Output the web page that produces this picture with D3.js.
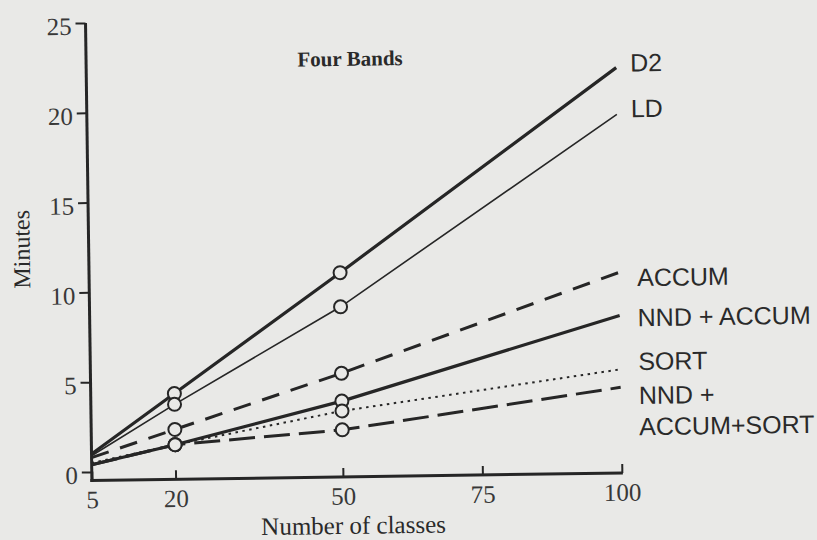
<!DOCTYPE html>
<html lang="en">
<head>
    <meta charset="UTF-8">
    <title>Four Bands</title>
    <script src="https://d3js.org/d3.v7.min.js"></script>
</head>

<style>
    body{
        margin: 0;
        background: #e9e9e7;
    }
    svg text {
        fill: #2a2a2a;
    }
</style>
<body>

    <svg id = "chart"></svg>

    <script>
    //Data
        const classes = [5, 20, 50, 100];
        const markerClasses = [20, 50];

        const d2 = [1.0, 4.3, 10.9, 22.1];
        const ld = [0.9, 3.7, 9.0, 19.5];
        const accum = [0.8, 2.3, 5.3, 10.7];
        const nndAccum = [0.4, 1.45, 3.75, 8.3];
        const sortMin = [0.5, 1.45, 3.2, 5.3];
        const nndAccumSort = [0.4, 1.45, 2.15, 4.3];

        const seriesNames = ['D2', 'LD', 'ACCUM', 'NND + ACCUM', 'SORT', 'NND +\nACCUM+SORT'];
        const seriesValues = [d2, ld, accum, nndAccum, sortMin, nndAccumSort];

        const yTicks = [0, 5, 10, 15, 20, 25];
        const xTicks = [5, 20, 50, 75, 100];

        const title = 'Four Bands';
        const xTitle = 'Number of classes';
        const yTitle = 'Minutes';

    //Line styles, same order as the series
        const styles = [
            {width: 3.2, dash: null},
            {width: 1.6, dash: null},
            {width: 3, dash: '18,12'},
            {width: 3.2, dash: null},
            {width: 2, dash: '2.5,4.5'},
            {width: 3, dash: '26,9'}
        ];
        const labelNudge = [-5, -6, 5, 2, -8, 8];

        const width = 817;
        const height = 540;
        const ink = '#262626';
        const serif = '"Liberation Serif", "Times New Roman", serif';

        const svg = d3.select('#chart')
            .attr('width', width)
            .attr('height', height);

        // the scan is a little tilted
        const g = svg.append('g')
            .attr('transform', 'rotate(-0.8, 408, 270)');

        const x = d3.scaleLinear()
            .domain([5, 100])
            .range([89, 619]);

        const y = d3.scaleLinear()
            .domain([0, 25])
            .range([467.5, 18.5]);

        const axisY = 476;

    //Axes
        const yAxis = g.append('g')
            .attr('transform', `translate(${x(5)},0)`)
            .call(d3.axisLeft(y).tickValues(yTicks).tickSize(10).tickPadding(4).tickSizeOuter(0));
        yAxis.select('.domain').remove();
        yAxis.selectAll('line').attr('stroke', ink).attr('stroke-width', 2);
        yAxis.selectAll('text')
            .attr('dy', '0.45em')
            .style('font-family', serif)
            .style('font-size', '25px')
            .style('fill', '#383838');

        const xAxis = g.append('g')
            .attr('transform', `translate(0,${axisY})`)
            .call(d3.axisBottom(x).tickValues(xTicks).tickSize(-9).tickPadding(10).tickSizeOuter(0));
        xAxis.select('.domain').remove();
        xAxis.selectAll('line').attr('stroke', ink).attr('stroke-width', 2);
        xAxis.selectAll('text')
            .style('font-family', serif)
            .style('font-size', '25px')
            .style('fill', '#383838');

        g.append('line')
            .attr('x1', x(5)).attr('x2', x(5))
            .attr('y1', y(25)).attr('y2', axisY + 1.5)
            .attr('stroke', ink).attr('stroke-width', 3);

        g.append('line')
            .attr('x1', x(5) - 1.5).attr('x2', x(100) + 1)
            .attr('y1', axisY).attr('y2', axisY)
            .attr('stroke', ink).attr('stroke-width', 3);

    //Series lines
        const line = d3.line()
            .x((d, i) => x(classes[i]))
            .y(d => y(d));

        seriesValues.forEach((values, i) => {
            g.append('path')
                .datum(values)
                .attr('d', line)
                .attr('fill', 'none')
                .attr('stroke', ink)
                .attr('stroke-width', styles[i].width)
                .attr('stroke-dasharray', styles[i].dash);
        });

    //Open circle markers at 20 and 50
        seriesValues.forEach(values => {
            markerClasses.forEach(c => {
                const v = values[classes.indexOf(c)];
                g.append('circle')
                    .attr('cx', x(c))
                    .attr('cy', y(v))
                    .attr('r', 6.5)
                    .attr('fill', '#e9e9e7')
                    .attr('stroke', ink)
                    .attr('stroke-width', 2);
            });
        });

    //End labels
        seriesValues.forEach((values, i) => {
            const last = values[values.length - 1];
            const lx = i < 2 ? x(100) + 14 : x(100) + 18;
            const t = g.append('text')
                .attr('y', y(last) + labelNudge[i])
                .style('font-family', '"Liberation Sans", Arial, Helvetica, sans-serif')
                .style('font-size', '25px');
            seriesNames[i].split('\n').forEach((s, k) => {
                t.append('tspan')
                    .attr('x', lx)
                    .attr('dy', k === 0 ? '0.36em' : '1.25em')
                    .text(s);
            });
        });

    //Titles
        g.append('text')
            .attr('x', 353)
            .attr('y', 65)
            .attr('text-anchor', 'middle')
            .style('font-family', serif)
            .style('font-weight', 'bold')
            .style('font-size', '21px')
            .text(title);

        g.append('text')
            .attr('x', 350)
            .attr('y', 533)
            .attr('text-anchor', 'middle')
            .style('font-family', serif)
            .style('font-size', '25px')
            .text(xTitle);

        g.append('text')
            .attr('transform', 'translate(30,244) rotate(-90)')
            .attr('text-anchor', 'middle')
            .style('font-family', serif)
            .style('font-size', '24px')
            .text(yTitle);
    </script>
</body>
</html>
